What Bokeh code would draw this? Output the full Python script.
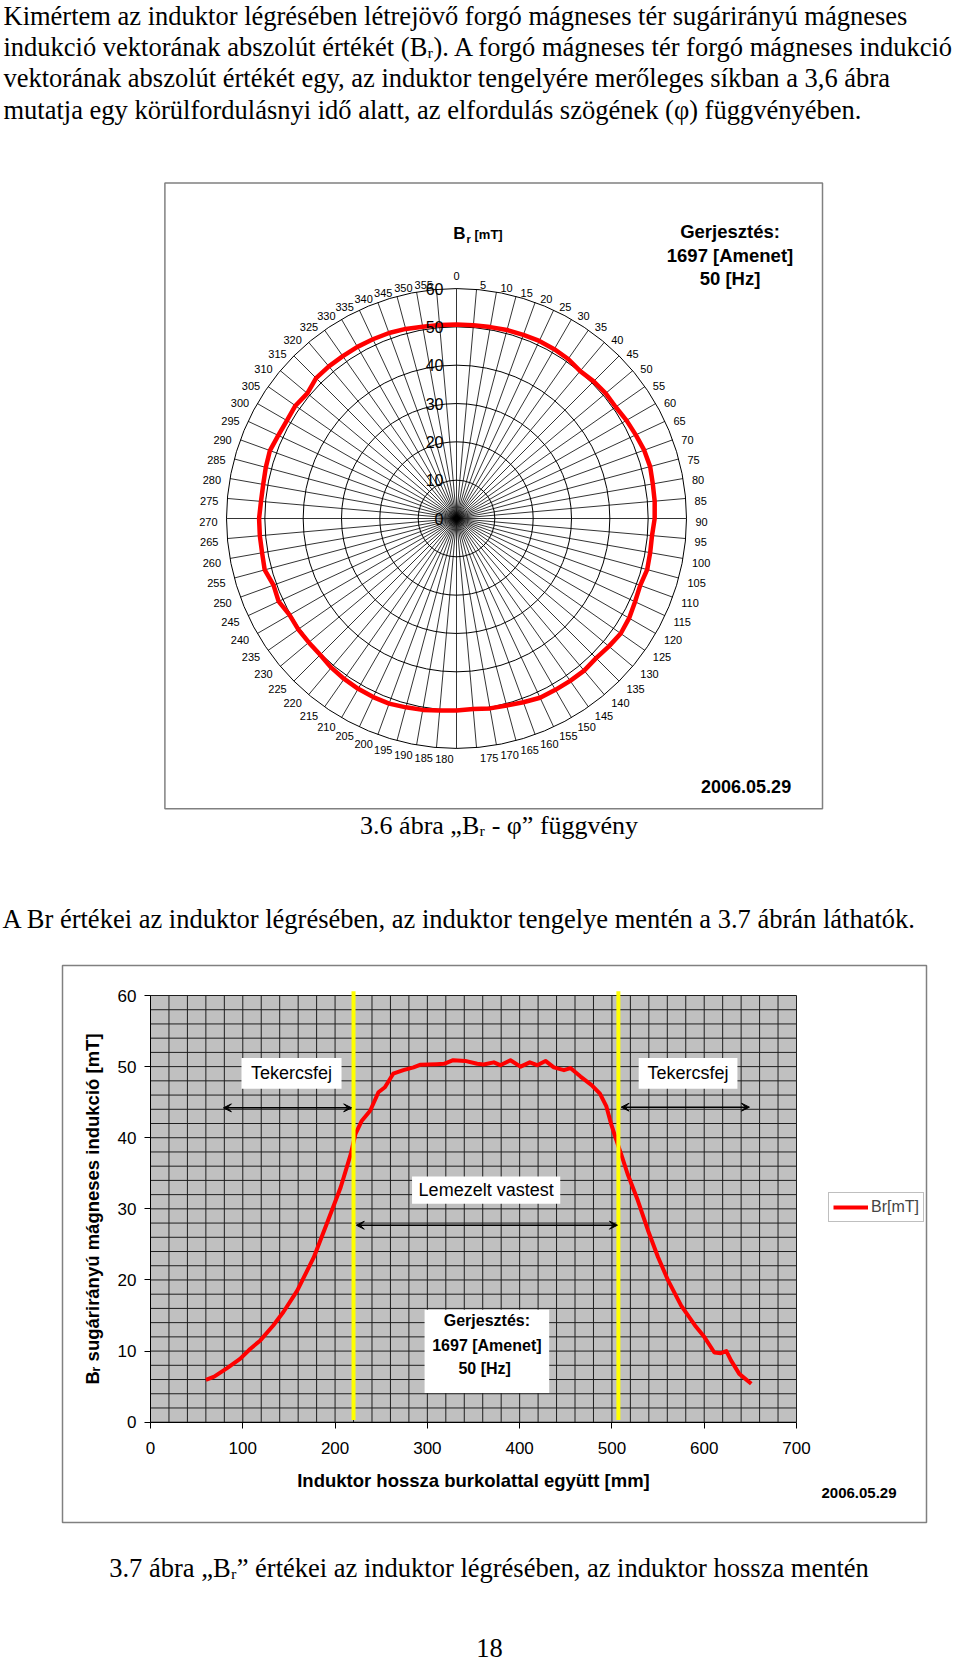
import numpy as np
from bokeh.plotting import figure
from bokeh.models import Range1d, FixedTicker, Legend, LegendItem, Arrow, VeeHead
from bokeh.layouts import column
from bokeh.embed import file_html
from bokeh.resources import INLINE
from bokeh.core.properties import value

# ---------------- data ----------------
paragraph = [
    "Kimértem az induktor légrésében létrejövő forgó mágneses tér sugárirányú mágneses",
    "indukció vektorának abszolút értékét (Bᵣ). A forgó mágneses tér forgó mágneses indukció",
    "vektorának abszolút értékét egy, az induktor tengelyére merőleges síkban a 3,6 ábra",
    "mutatja egy körülfordulásnyi idő alatt, az elfordulás szögének (φ) függvényében.",
]
caption_36 = "3.6 ábra „Bᵣ - φ” függvény"
text_37_intro = "A Br értékei az induktor légrésében, az induktor tengelye mentén a 3.7 ábrán láthatók."
caption_37 = "3.7 ábra „Bᵣ” értékei az induktor légrésében, az induktor hossza mentén"
page_number = "18"

# polar chart: angle (deg) and Br (mT)
angles_deg = list(range(0, 360, 5))
br_polar = [50.6, 50.6, 50.7, 50.9, 51.0, 51.1, 51.0, 50.8, 50.2, 50.6, 50.8, 50.7,
            51.2, 51.6, 52.1, 52.3, 52.0, 51.9, 51.7, 51.2, 51.3, 51.5, 51.0, 51.4,
            52.0, 52.3, 51.9, 51.5, 51.8, 51.7, 51.6, 51.6, 51.0, 50.5, 50.3, 49.9,
            50.1, 50.3, 50.7, 51.0, 51.4, 51.4, 51.3, 51.1, 50.8, 50.3, 50.3, 50.4,
            50.3, 51.2, 50.8, 51.8, 51.5, 51.5, 51.5, 51.2, 51.2, 51.5, 51.8, 51.3,
            51.1, 51.3, 50.8, 51.8, 51.8, 51.7, 51.7, 51.6, 51.5, 51.2, 50.8, 50.7]
ring_values = [10, 20, 30, 40, 50, 60]
radial_values = [0, 10, 20, 30, 40, 50, 60]
polar_excitation = ["Gerjesztés:", "1697 [Amenet]", "50 [Hz]"]
date_text = "2006.05.29"

# axial chart: length (mm) vs Br (mT)
length_mm = [60, 69, 83, 97, 108, 119, 133, 144, 159, 177,
             191, 206, 217, 222, 229, 238, 247, 254, 263, 274,
             285, 292, 301, 310, 318, 328, 341, 354, 361, 372,
             379, 390, 401, 411, 419, 428, 437, 448, 455, 466,
             478, 487, 494, 499, 505, 510, 517, 528, 539, 550,
             561, 575, 590, 600, 611, 618, 624, 629, 638, 651]
br_axial = [5.95, 6.4, 7.6, 8.9, 10.3, 11.5, 13.6, 15.5, 18.5, 23.2,
            27.9, 33.0, 37.7, 40.5, 42.4, 43.8, 46.4, 47.1, 49.0, 49.5,
            49.9, 50.25, 50.3, 50.35, 50.4, 50.9, 50.8, 50.4, 50.3, 50.6,
            50.2, 50.9, 50.0, 50.6, 50.2, 50.8, 49.9, 49.5, 49.8, 48.6,
            47.4, 46.2, 44.4, 42.0, 39.6, 37.7, 34.9, 31.2, 27.0, 23.2,
            19.9, 16.4, 13.6, 12.0, 9.8, 9.7, 10.0, 8.7, 6.8, 5.4]
coil_ends_mm = [220, 507]
x_ticks = [0, 100, 200, 300, 400, 500, 600, 700]
y_ticks = [0, 10, 20, 30, 40, 50, 60]
grid_x = list(range(0, 701, 20))
grid_y = list(range(0, 61, 2))
zone_labels = ["Tekercsfej", "Tekercsfej", "Lemezelt vastest"]
axial_excitation = ["Gerjesztés:", "1697 [Amenet]", "50  [Hz]"]

SERIF = value("Liberation Serif")
SANS = value("Liberation Sans")
BODY = "26.5px"

# ---------------- figure A: top text + polar chart (page pixel coordinates) ----------------
pa = figure(width=960, height=960, x_range=Range1d(0, 960), y_range=Range1d(960, 0),
            x_axis_type=None, y_axis_type=None, output_backend="svg",
            toolbar_location=None, min_border=0, frame_align=False)
pa.grid.visible = False
pa.outline_line_color = None

pa.text(x=[3] * 4, y=[15, 46.5, 77.5, 109], text=paragraph, text_font=SERIF,
        text_font_size=BODY, text_baseline="middle", text_align="left", text_color="black")

pa.quad(left=[164.4], right=[822], top=[182.5], bottom=[808.3], fill_color="white",
        line_color="#808080", line_width=1.5)

cx, cy, R = 456.0, 518.0, 230.0
k = R / 60.0
th = np.radians(angles_deg)
pa.segment(x0=[cx] * len(th), y0=[cy] * len(th), x1=cx + R * np.sin(th), y1=cy - R * np.cos(th),
           line_color="black", line_width=0.8)
pa.circle(x=[cx] * len(ring_values), y=[cy] * len(ring_values),
          radius=[v * k for v in ring_values], fill_color=None, line_color="black", line_width=1)

rr = np.array(br_polar + [br_polar[0]])
tt = np.radians(angles_deg + [360])
pa.line(cx + rr * k * np.sin(tt), cy - rr * k * np.cos(tt), line_color="red",
        line_width=4.5, line_join="round")

pa.text(x=[443] * len(radial_values), y=[cy - v * k for v in radial_values],
        text=[str(v) for v in radial_values], text_font=SANS, text_font_size="16px",
        text_align="right", text_baseline="middle", text_color="black")

ex = cx + R * np.sin(th)
ey = cy - R * np.cos(th)
lx, ly, la = [], [], []
for a, x0, y0 in zip(angles_deg, ex, ey):
    s, c = np.sin(np.radians(a)), np.cos(np.radians(a))
    if a == 0:
        lx.append(x0); ly.append(y0 - 13); la.append("center")
    elif a < 180:
        lx.append(x0 + 3 + 6 * abs(s)); ly.append(y0 - 7 * c + 3); la.append("left")
    else:
        lx.append(x0 - 3 - 6 * abs(s)); ly.append(y0 - 7 * c + 3); la.append("right")
pa.text(x=lx, y=ly, text=[str(a) for a in angles_deg], text_align=la, text_baseline="middle",
        text_font=SANS, text_font_size="11px", text_color="black")

pa.text(x=[459], y=[233], text=["B"], text_font=SANS, text_font_size="17px", text_font_style="bold",
        text_align="center", text_baseline="middle")
pa.text(x=[466], y=[238], text=["r"], text_font=SANS, text_font_size="11px", text_font_style="bold",
        text_align="left", text_baseline="middle")
pa.text(x=[474], y=[234], text=["[mT]"], text_font=SANS, text_font_size="13px", text_font_style="bold",
        text_align="left", text_baseline="middle")
pa.text(x=[729.5] * 3, y=[231, 254.6, 278], text=polar_excitation, text_font=SANS,
        text_font_size="18.5px", text_font_style="bold", text_align="center", text_baseline="middle")
pa.text(x=[745.6], y=[786], text=[date_text], text_font=SANS, text_font_size="18px",
        text_font_style="bold", text_align="center", text_baseline="middle")

pa.text(x=[498.6], y=[825.3], text=[caption_36], text_font=SERIF, text_font_size="26px",
        text_align="center", text_baseline="middle")
pa.text(x=[2], y=[918.7], text=[text_37_intro], text_font=SERIF, text_font_size=BODY,
        text_align="left", text_baseline="middle")

# ---------------- figure B: axial chart ----------------
# page-pixel placement of the plot area: x=0 mm at px 150, 700 mm at px 796; 0 mT at py 1421.7, 60 mT at py 995
X0, SX = 150.0, 646.0 / 700.0
Y0, SY = 1421.7, 426.7 / 60.0
B_TOP, B_BOT = 960.0, 1530.0


def mm(px):
    return (px - X0) / SX


def mt(py):
    return (Y0 - py) / SY


pb = figure(width=960, height=int(B_BOT - B_TOP), x_range=Range1d(mm(0), mm(960)),
            y_range=Range1d(mt(B_BOT), mt(B_TOP)), output_backend="svg", toolbar_location=None,
            min_border=0, frame_align=False, background_fill_color="white", border_fill_color="white")
pb.outline_line_color = None
pb.grid.visible = False

# chart area frame
pb.quad(left=[mm(62)], right=[mm(926)], top=[mt(965)], bottom=[mt(1522)], fill_color=None,
        line_color="#808080", line_width=1.5)
# plot area
pb.quad(left=[0], right=[700], bottom=[0], top=[60], fill_color="#c0c0c0", line_color=None)
pb.segment(x0=grid_x, y0=[0] * len(grid_x), x1=grid_x, y1=[60] * len(grid_x),
           line_color="#1e1e1e", line_width=1)
pb.segment(x0=[0] * len(grid_y), y0=grid_y, x1=[700] * len(grid_y), y1=grid_y,
           line_color="#1e1e1e", line_width=1)

pb.xaxis.fixed_location = 0
pb.yaxis.fixed_location = 0
pb.xaxis.bounds = (0, 700)
pb.yaxis.bounds = (0, 60)
pb.xaxis.ticker = FixedTicker(ticks=x_ticks)
pb.yaxis.ticker = FixedTicker(ticks=y_ticks)
for ax in (pb.xaxis[0], pb.yaxis[0]):
    ax.axis_line_color = "black"
    ax.major_tick_line_color = "black"
    ax.minor_tick_line_color = None
    ax.major_tick_out = 6
    ax.major_tick_in = 0
    ax.major_label_text_font = "Liberation Sans"
    ax.major_label_text_font_size = "17px"
    ax.major_label_text_color = "black"
    ax.major_label_standoff = 8
    ax.axis_label_text_font = "Liberation Sans"
    ax.axis_label_text_font_size = "18.5px"
    ax.axis_label_text_font_style = "bold"
    ax.axis_label_text_color = "black"
pb.xaxis.major_label_standoff = 14
pb.xaxis.axis_label = "Induktor hossza burkolattal együtt [mm]"
pb.yaxis.axis_label = "Bᵣ sugárirányú mágneses indukció [mT]"
pb.xaxis.axis_label_standoff = 12
pb.yaxis.axis_label_standoff = 12

r = pb.line(length_mm, br_axial, line_color="red", line_width=4, line_join="round")
pb.segment(x0=coil_ends_mm, y0=[0.3, 0.3], x1=coil_ends_mm, y1=[60.6, 60.6],
           line_color="#ffff00", line_width=4)

pb.quad(left=[98.6, 529, 283.4, 297], right=[207, 636, 444, 432],
        bottom=[46.9, 46.9, 30.7, 4.1], top=[51.2, 51.2, 34.55, 15.8],
        fill_color="white", line_color=None)
pb.text(x=[152.8, 582.5, 363.7], y=[49.05, 49.05, 32.6], text=zone_labels,
        text_font=SANS, text_font_size="18px", text_align="center", text_baseline="middle")
pb.text(x=[364.5] * 3, y=[14.3, 10.8, 7.5], text=axial_excitation, text_font=SANS,
        text_font_size="16px", text_font_style="bold", text_align="center", text_baseline="middle")

for xs, xe, yy in [(79, 218, 44.2), (223, 506, 27.7), (510, 649, 44.3)]:
    pb.add_layout(Arrow(start=VeeHead(size=8, fill_color="black", line_color="black"),
                        end=VeeHead(size=8, fill_color="black", line_color="black"),
                        x_start=xs, y_start=yy, x_end=xe, y_end=yy,
                        line_color="black", line_width=1.5))

legend = Legend(items=[LegendItem(label="Br[mT]", renderers=[r])], location=(828, 308),
                label_text_font="Liberation Sans", label_text_font_size="16px",
                glyph_width=35, glyph_height=20, label_height=20, label_standoff=3,
                padding=4, margin=0, spacing=0, border_line_color="#808080",
                border_line_width=1.5, background_fill_color="white")
pb.add_layout(legend)

pb.text(x=[mm(858.5)], y=[mt(1492.5)], text=[date_text], text_font=SANS, text_font_size="15px",
        text_font_style="bold", text_align="center", text_baseline="middle")

# ---------------- figure C: bottom text ----------------
pc = figure(width=960, height=134, x_range=Range1d(0, 960), y_range=Range1d(1664, 1530),
            x_axis_type=None, y_axis_type=None, output_backend="svg",
            toolbar_location=None, min_border=0, frame_align=False)
pc.grid.visible = False
pc.outline_line_color = None
pc.text(x=[488.5], y=[1567], text=[caption_37], text_font=SERIF, text_font_size=BODY,
        text_align="center", text_baseline="middle")
pc.text(x=[489], y=[1647], text=[page_number], text_font=SERIF, text_font_size=BODY,
        text_align="center", text_baseline="middle")

layout = column(pa, pb, pc, spacing=0)
open("out.html", "w").write(file_html(layout, INLINE))
